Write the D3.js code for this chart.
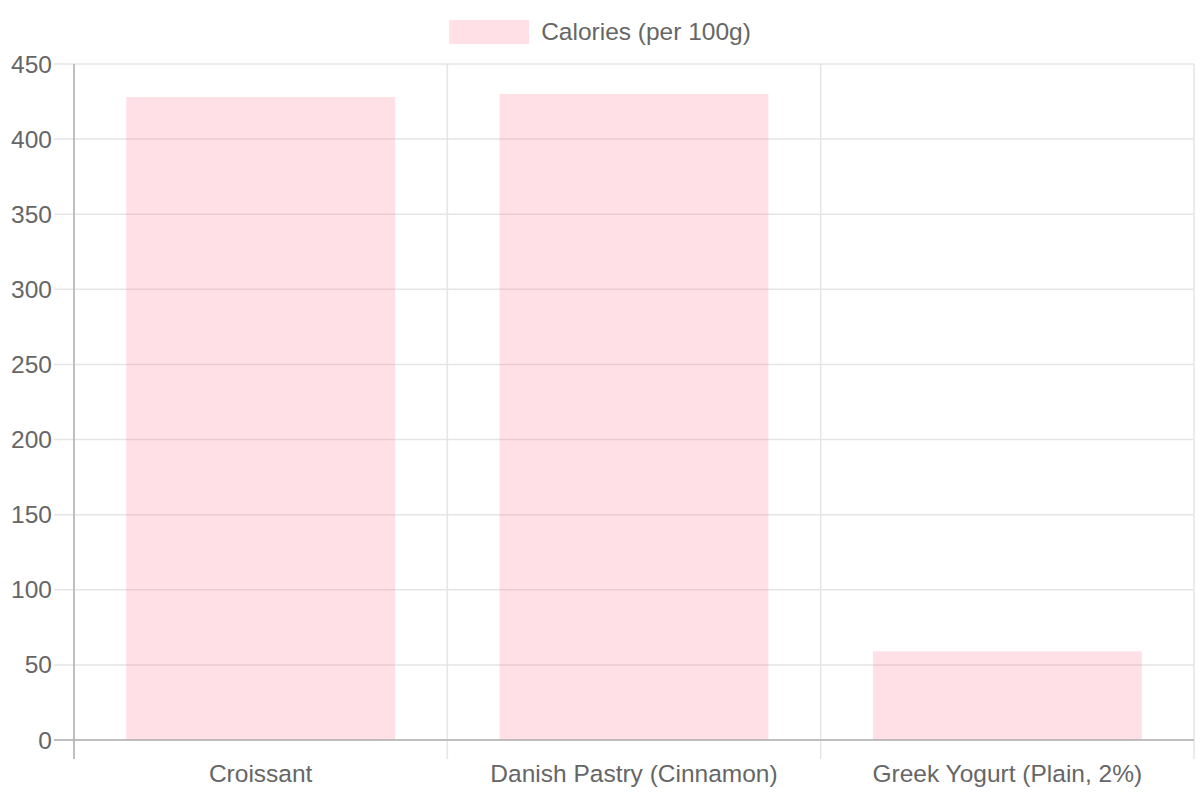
<!DOCTYPE html>
<html>
<head>
<meta charset="utf-8">
<script src="https://cdn.jsdelivr.net/npm/d3@7"></script>
<style>
  body { margin: 0; background: #fff; }
  svg { display: block; font-family: "Liberation Sans", Arial, sans-serif; }
</style>
</head>
<body>
<div id="chart"></div>
<script>
// chart data
const categories = ['Croissant', 'Danish Pastry (Cinnamon)', 'Greek Yogurt (Plain, 2%)'];
const calories = [428, 430, 59];
const seriesLabel = 'Calories (per 100g)';
const yTicks = [0, 50, 100, 150, 200, 250, 300, 350, 400, 450];

const W = 1200, H = 800;
const margin = { top: 64, right: 6, bottom: 60, left: 74 };
const width = W - margin.left - margin.right,
  height = H - margin.top - margin.bottom;

const barFill = 'rgba(255, 99, 132, 0.2)';
const gridColor = '#e5e5e5';
const axisColor = '#b0b0b0';
const textColor = '#666';
const fontSize = '24.5px';

const svg = d3.select('#chart')
  .append('svg')
  .attr('width', W)
  .attr('height', H);

const g = svg.append('g')
  .attr('transform', `translate(${margin.left},${margin.top})`);

const x = d3.scaleBand()
  .domain(categories)
  .range([0, width])
  .paddingInner(0)
  .paddingOuter(0);

const y = d3.scaleLinear()
  .domain([0, 450])
  .range([height, 0]);

// horizontal grid + tick marks
g.append('g')
  .selectAll('line')
  .data(yTicks)
  .join('line')
  .attr('x1', -20)
  .attr('x2', width)
  .attr('y1', d => y(d))
  .attr('y2', d => y(d))
  .attr('stroke', gridColor)
  .attr('stroke-width', 1.5);

// vertical grid at category boundaries
const bounds = categories.map(c => x(c)).concat([width]);
g.append('g')
  .selectAll('line')
  .data(bounds)
  .join('line')
  .attr('x1', d => d)
  .attr('x2', d => d)
  .attr('y1', 0)
  .attr('y2', height + 19)
  .attr('stroke', gridColor)
  .attr('stroke-width', 1.5);

// bars
const bw = x.bandwidth() * 0.72;
g.append('g')
  .selectAll('rect')
  .data(categories)
  .join('rect')
  .attr('x', d => x(d) + (x.bandwidth() - bw) / 2)
  .attr('width', bw)
  .attr('y', (d, i) => y(calories[i]))
  .attr('height', (d, i) => height - y(calories[i]))
  .attr('fill', barFill);

// axis lines
g.append('line')
  .attr('x1', 0).attr('x2', 0)
  .attr('y1', 0).attr('y2', height + 19)
  .attr('stroke', axisColor)
  .attr('stroke-width', 1.5);

g.append('line')
  .attr('x1', -20).attr('x2', width)
  .attr('y1', height).attr('y2', height)
  .attr('stroke', axisColor)
  .attr('stroke-width', 1.5);

// y labels
g.append('g')
  .selectAll('text')
  .data(yTicks)
  .join('text')
  .attr('x', -22)
  .attr('y', d => y(d))
  .attr('dy', '0.35em')
  .attr('text-anchor', 'end')
  .attr('fill', textColor)
  .style('font-size', fontSize)
  .text(d => d);

// x labels
g.append('g')
  .selectAll('text')
  .data(categories)
  .join('text')
  .attr('x', d => x(d) + x.bandwidth() / 2)
  .attr('y', height + 42)
  .attr('text-anchor', 'middle')
  .attr('fill', textColor)
  .style('font-size', fontSize)
  .text(d => d);

// legend
const legend = svg.append('g');
const legendText = legend.append('text')
  .attr('y', 40)
  .attr('fill', textColor)
  .style('font-size', fontSize)
  .text(seriesLabel);
const tw = legendText.node().getComputedTextLength();
const totalW = 80 + 12 + tw;
const lx = (W - totalW) / 2;
legend.append('rect')
  .attr('x', lx)
  .attr('y', 20)
  .attr('width', 80)
  .attr('height', 24)
  .attr('fill', barFill);
legendText.attr('x', lx + 92);
</script>
</body>
</html>
